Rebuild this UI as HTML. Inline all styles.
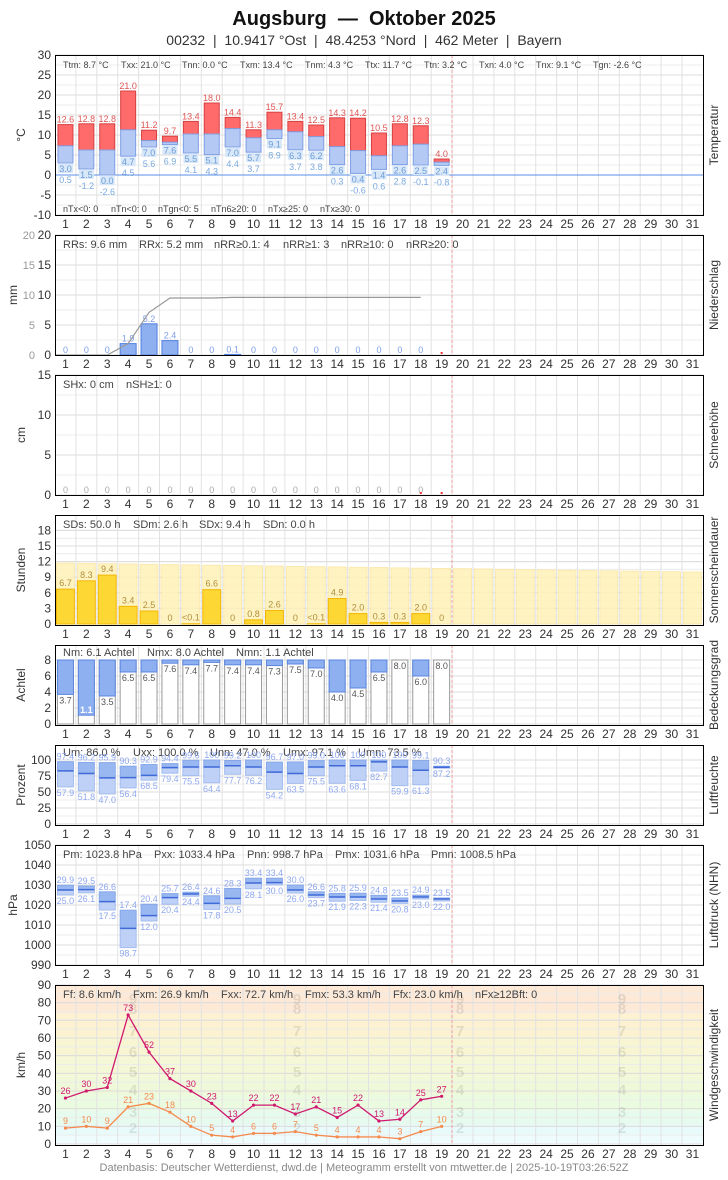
<!DOCTYPE html>
<html><head><meta charset="utf-8"><style>
body{margin:0;background:#fff;width:728px;height:1175px;overflow:hidden;font-family:"Liberation Sans",sans-serif}
</style></head><body>
<svg id="s" width="728" height="1175" xmlns="http://www.w3.org/2000/svg" font-family="Liberation Sans, sans-serif"></svg>
<script>
var o=[];
function R(x,y,w,h,f,s,op){o.push('<rect x="'+x+'" y="'+y+'" width="'+w+'" height="'+h+'" fill="'+f+'"'+(s?' stroke="'+s+'" stroke-width="1"':'')+(op?' opacity="'+op+'"':'')+'/>');}
function L(x1,y1,x2,y2,c,w,d){o.push('<line x1="'+x1+'" y1="'+y1+'" x2="'+x2+'" y2="'+y2+'" stroke="'+c+'" stroke-width="'+(w||1)+'"'+(d?' stroke-dasharray="'+d+'"':'')+'/>');}
function T(x,y,t,sz,c,a,ex){o.push('<text x="'+x+'" y="'+y+'" font-size="'+sz+'" fill="'+c+'" text-anchor="'+(a||'start')+'" '+(ex||'')+'>'+t+'</text>');}
var X0=55,CW=20.9;
function cx(i){return X0+i*CW+CW/2;}
function panel(top,bot,ticks,yf,unit,name,stats,sy,ssz,ux){
  for(var v=ticks[0];v<=ticks[1]+1e-9;v+=ticks[2]/2){L(X0,yf(v),703,yf(v),'#ececec');}
  for(var v=ticks[0];v<=ticks[1]+1e-9;v+=ticks[2]){L(X0,yf(v),703,yf(v),'#dcdcdc');T(51,yf(v)+4,String(v),12,'#333','end');}
  for(var i=1;i<31;i++)L(X0+i*CW,top,X0+i*CW,bot,'#e2e2e2');
  L(452,top,452,bot,'#f0a0a0',1,'3,2');
  for(var i=0;i<31;i++)T(cx(i),bot+13,String(i+1),12,'#333','middle');
  var my=(top+bot)/2;ux=ux||22;
  T(ux,my,unit,12,'#333','middle','transform="rotate(-90 '+ux+' '+my+')" dominant-baseline="middle"');
  T(715,my,name,12,'#333','middle','transform="rotate(-90 715 '+my+')" dominant-baseline="middle"');
  for(var k=0;k<stats.length;k++)T(stats[k][0],sy,stats[k][1],ssz||11,'#444');
}
function border(top,bot){R(X0+.5,top+.5,648,bot-top,'none','#000');}
T(364,25,'Augsburg  —  Oktober 2025',20,'#111','middle','font-weight="bold" xml:space="preserve"');
T(364,45,'00232  |  10.9417 °Ost  |  48.4253 °Nord  |  462 Meter  |  Bayern',14,'#333','middle','xml:space="preserve"');
// Temperature
var yT=function(v){return 175-4*v;};
panel(55,215,[-10,30,5],yT,'°C','Temperatur',[[63,'Ttm: 8.7 °C'],[121,'Txx: 21.0 °C'],[182,'Tnn: 0.0 °C'],[240,'Txm: 13.4 °C'],[305,'Tnm: 4.3 °C'],[365,'Ttx: 11.7 °C'],[424,'Ttn: 3.2 °C'],[479,'Txn: 4.0 °C'],[536,'Tnx: 9.1 °C'],[593,'Tgn: -2.6 °C']],68,9);
T(63,212,'nTx&lt;0: 0',9,'#444');T(111,212,'nTn&lt;0: 0',9,'#444');T(158,212,'nTgn&lt;0: 5',9,'#444');T(211,212,'nTn6≥20: 0',9,'#444');T(268,212,'nTx≥25: 0',9,'#444');T(320,212,'nTx≥30: 0',9,'#444');
L(X0,175,703,175,'#5b8fe8',1);
var Tx=[12.6,12.8,12.8,21.0,11.2,9.7,13.4,18.0,14.4,11.3,15.7,13.4,12.5,14.3,14.2,10.5,12.8,12.3,4.0];
var Tn=[3.0,1.5,0.0,4.7,7.0,7.6,5.5,5.1,7.0,5.7,9.1,6.3,6.2,2.6,0.4,1.4,2.6,2.5,2.4];
var Tg=[0.5,-1.2,-2.6,4.5,5.6,6.9,4.1,4.3,4.4,3.7,8.9,3.7,3.8,0.3,-0.6,0.6,2.8,-0.1,-0.8];
var Tm=[7.3,6.25,6.25,11.3,8.6,8.2,10.25,10.25,11.6,9.3,11.3,10.8,9.6,7.1,6.1,4.8,7.3,7.7,3.2];
for(var i=0;i<19;i++){var x=cx(i)-7.5;
 R(x,yT(Tx[i]),15,yT(Tm[i])-yT(Tx[i]),'#ff6b6b','#d84040');
 R(x,yT(Tm[i]),15,yT(Tn[i])-yT(Tm[i]),'#b4c9f3','#7fa0e6');
 R(x,yT(Tn[i])+1,15,9,'#d8e8f8');
 T(cx(i),yT(Tx[i])-2,Tx[i].toFixed(1),9,'#e05555','middle');
 T(cx(i),yT(Tn[i])+9,Tn[i].toFixed(1),9,'#6a9ad8','middle');
 T(cx(i),yT(Tn[i])+20,Tg[i].toFixed(1),9,'#7aaae0','middle');}
border(55,215);
// Precip
var yP=function(v){return 355-6*v;};
panel(235,355,[0,20,5],yP,'mm','Niederschlag',[[63,'RRs: 9.6 mm'],[139,'RRx: 5.2 mm'],[214,'nRR≥0.1: 4'],[283,'nRR≥1: 3'],[341,'nRR≥10: 0'],[406,'nRR≥20: 0']],248,11,14);
[20,15,10,5,0].forEach(function(v){T(35,yP(v)+4,String(v),11,'#999','end');});
var P=[0,0,0,1.9,5.2,2.4,0,0,0.1,0,0,0,0,0,0,0,0,0];
for(var i=0;i<18;i++){if(P[i]>0)R(cx(i)-8,yP(P[i]),16,P[i]*6,'#8fb0f0','#4f7fe0');
 T(cx(i),yP(P[i])-2,P[i]==0?'0':P[i].toFixed(1),9,'#7f9fe8','middle');}
var c=0,pts='55,355';for(var i=0;i<18;i++){c+=P[i];pts+=' '+cx(i)+','+yP(c);}
o.push('<polyline points="'+pts+'" fill="none" stroke="#999" stroke-width="1.2"/>');
R(cx(18)-1,352,2,2,'#e33');
border(235,355);
// Snow
var yS=function(v){return 495-8*v;};
panel(375,495,[0,15,5],yS,'cm','Schneehöhe',[[63,'SHx: 0 cm'],[126,'nSH≥1: 0']],388);
for(var i=0;i<18;i++)T(cx(i),493,'0',9,'#aaa','middle');
R(cx(17)-1,492,2,2,'#e33');R(cx(18)-1,492,2,2,'#e33');
border(375,495);
// Sunshine
var ySD=function(v){return 624-5.2*v;};
panel(515,625,[0,18,3],ySD,'Stunden','Sonnenscheindauer',[[63,'SDs: 50.0 h'],[133,'SDm: 2.6 h'],[199,'SDx: 9.4 h'],[263,'SDn: 0.0 h']],528);
var SD=[6.7,8.3,9.4,3.4,2.5,0,0.05,6.6,0,0.8,2.6,0,0.05,4.9,2.0,0.3,0.3,2.0,0];
for(var i=0;i<31;i++){var p=11.7-1.7*i/30;R(X0+i*CW+1.5,ySD(p),CW-3,624-ySD(p),'#fff2b8','#fbe6a0',0.85);}
for(var i=0;i<19;i++){if(SD[i]>0)R(X0+i*CW+1.5,ySD(SD[i]),CW-3,SD[i]*5.2,'#fdd835','#f2b705');
 T(cx(i),ySD(SD[i])-3,SD[i]==0?'0':(SD[i]<0.1?'&lt;0.1':SD[i].toFixed(1)),9,'#b08f3a','middle');}
border(515,625);
// Cloud
var yN=function(v){return 724-8*v;};
panel(645,725,[0,8,2],yN,'Achtel','Bedeckungsgrad',[[63,'Nm: 6.1 Achtel'],[147,'Nmx: 8.0 Achtel'],[236,'Nmn: 1.1 Achtel']],656);
var N=[3.7,1.1,3.5,6.5,6.5,7.6,7.4,7.7,7.4,7.4,7.3,7.5,7.0,4.0,4.5,6.5,8.0,6.0,8.0];
for(var i=0;i<19;i++){var x=cx(i)-8;R(x,yN(8),16,64,'#fff','#999');
 if(N[i]<8)R(x,yN(8),16,(8-N[i])*8,'#8fb0f0','#5a86e0');
 if(N[i]<2)T(cx(i),yN(N[i])-2,N[i].toFixed(1),9,'#fff','middle','font-weight="bold"');
 else{R(x+1,yN(N[i])+1,14,10,'#fff');T(cx(i),yN(N[i])+9,N[i].toFixed(1),9,'#555','middle');}}
border(645,725);
// Humidity
var yU=function(v){return 824-0.64*v;};
panel(745,825,[0,100,25],yU,'Prozent','Luftfeuchte',[[63,'Um: 86.0 %'],[133,'Uxx: 100.0 %'],[210,'Unn: 47.0 %'],[283,'Umx: 97.1 %'],[358,'Umn: 73.5 %']],756);
var Ux=[97.4,96.2,95.9,90.3,92.9,94.4,99.6,100,99.2,100,96.7,97.0,99.0,100,100,100,100,99.1,90.3];
var Un=[57.9,51.8,47.0,56.4,68.5,79.4,75.5,64.4,77.7,76.2,54.2,63.5,75.5,63.6,68.1,82.7,59.9,61.3,87.2];
var Um=[83,79,72,72.5,76,88,89,89,91,89,81,79,89,91,91,97,89,84,88.7];
for(var i=0;i<19;i++){var x=cx(i)-8;
 R(x,yU(Ux[i]),16,yU(Um[i])-yU(Ux[i]),'#8fb0f0','#7a9fe8',0.9);
 R(x,yU(Um[i]),16,yU(Un[i])-yU(Um[i]),'#b9cdf6','#9ab6ee',0.9);
 L(x,yU(Um[i]),x+16,yU(Um[i]),'#3f6ad8',1.5);
 T(cx(i),yU(Ux[i])-2,Ux[i]==100?'100':Ux[i].toFixed(1),9,'#8fa8f0','middle');
 T(cx(i),yU(Un[i])+9,Un[i].toFixed(1),9,'#8fa8f0','middle');}
border(745,825);
// Pressure
var yH=function(v){return 845+(1050-v)*2;};
panel(845,965,[990,1050,10],yH,'hPa','Luftdruck (NHN)',[[63,'Pm: 1023.8 hPa'],[154,'Pxx: 1033.4 hPa'],[247,'Pnn: 998.7 hPa'],[335,'Pmx: 1031.6 hPa'],[431,'Pmn: 1008.5 hPa']],858,11,14);
var Px=[29.9,29.5,26.6,17.4,20.4,25.7,26.4,24.6,28.3,33.4,33.4,30.0,26.6,25.8,25.9,24.8,23.5,24.9,23.5];
var Pn=[25.0,26.1,17.5,-1.3,12.0,20.4,24.4,17.8,20.5,28.1,30.0,26.0,23.7,21.9,22.3,21.4,20.8,23.0,22.0];
var Pm=[27.5,27.7,21.7,8.3,14.7,23.7,25.5,20.8,23.3,31,31.2,27.5,25,24,24,23,22,24,23];
for(var i=0;i<19;i++){var x=cx(i)-8,a=1000+Px[i],b=1000+Pn[i],m=1000+Pm[i];
 R(x,yH(a),16,yH(m)-yH(a),'#8fb0f0','#7a9fe8',0.9);
 R(x,yH(m),16,yH(b)-yH(m),'#b9cdf6','#9ab6ee',0.9);
 L(x,yH(m),x+16,yH(m),'#3f6ad8',1.5);
 T(cx(i),yH(a)-2,Px[i].toFixed(1),9,'#8fa8f0','middle');
 T(cx(i),yH(b)+9,(Pn[i]<0?(100+Pn[i]):Pn[i]).toFixed(1),9,'#8fa8f0','middle');}
border(845,965);
// Wind
var yW=function(v){return 1144-v*1.767;};
var bands=[[0,1,'#f4fdff'],[1,5,'#effcfd'],[5,11,'#e8fafa'],[11,19,'#e6fbee'],[19,28,'#ebfbe0'],[28,38,'#eff9d9'],[38,49,'#f4f8d6'],[49,61,'#f8f6d2'],[61,74,'#fcf1d0'],[74,90,'#fde9d6']];
bands.forEach(function(b){R(X0,yW(b[1]),648,yW(b[0])-yW(b[1]),b[2]);});
panel(985,1145,[0,90,10],yW,'km/h','Windgeschwindigkeit',[[63,'Ff: 8.6 km/h'],[133,'Fxm: 26.9 km/h'],[221,'Fxx: 72.7 km/h'],[305,'Fmx: 53.3 km/h'],[393,'Ffx: 23.0 km/h'],[475,'nFx≥12Bft: 0']],998);
var dig=[[2,1123],[3,1108],[4,1088],[5,1063],[6,1044],[7,1023],[8,1001],[9,982+17]];
[133,297,460,622].forEach(function(x){[[2,1128],[3,1111],[4,1092],[5,1071],[6,1050],[7,1029],[8,1007],[9,1004]].forEach(function(d){if(d[0]==9)d[1]=1005;});
 var ys={2:1130,3:1112,4:1093,5:1072,6:1051,7:1030,8:1008,9:1005};
 for(var k=2;k<10;k++){var yy=k==9?1005:(k==8?1029:ys[k]);}
 var pos={2:1129,3:1111,4:1092,5:1071,6:1050,7:1030,8:1008,9:1005};
 pos={2:1130,3:1114,4:1094,5:1071,6:1051,7:1030,8:1028,9:1005};
 var real={2:1130,3:1113,4:1093,5:1072,6:1052,7:1031,8:1009,9:1005};
 var yy2={2:1133,3:1117,4:1095,5:1077,6:1057,7:1036,8:1014,9:1004};
 for(var k=2;k<10;k++)T(x,yy2[k],String(k),15,'#000','middle','opacity="0.09" font-weight="bold"');});
var Fx=[26,30,32,73,52,37,30,23,13,22,22,17,21,15,22,13,14,25,27];
var Ff=[9,10,9,21,23,18,10,5,4,6,6,7,5,4,4,4,3,7,10];
function line(d,c){var p=d.map(function(v,i){return cx(i)+','+yW(v);}).join(' ');
 o.push('<polyline points="'+p+'" fill="none" stroke="'+c+'" stroke-width="1.3"/>');
 d.forEach(function(v,i){o.push('<circle cx="'+cx(i)+'" cy="'+yW(v)+'" r="1.6" fill="'+c+'"/>');T(cx(i),yW(v)-4,String(v),9,c,'middle');});}
line(Ff,'#f58a4e');line(Fx,'#d0186e');
border(985,1145);
T(364,1171,'Datenbasis: Deutscher Wetterdienst, dwd.de | Meteogramm erstellt von mtwetter.de | 2025-10-19T03:26:52Z',11,'#888','middle');
document.getElementById('s').innerHTML=o.join('');
</script>
</body></html>
